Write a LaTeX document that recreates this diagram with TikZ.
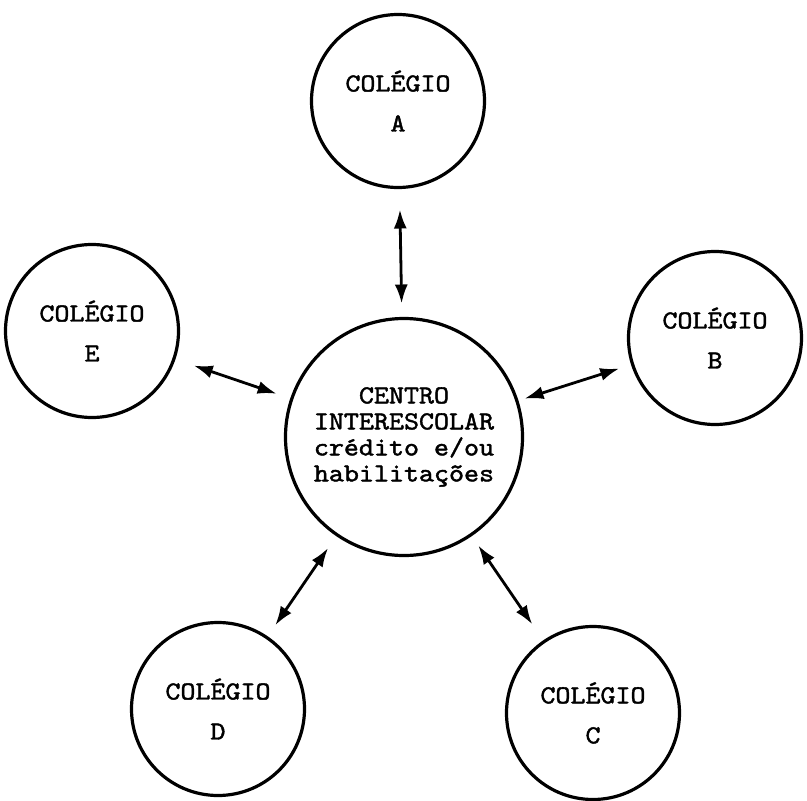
\documentclass[tikz,border=0pt]{standalone}
\usepackage{fontspec}
\newfontfamily\typer{lmmono10-regular}[Extension=.otf,FakeStretch=1.1,FakeBold=1.6]
\usetikzlibrary{arrows.meta}
\begin{document}
\begin{tikzpicture}[x=1pt,y=-1pt,
  school/.style={circle,draw,line width=3.2pt,inner sep=0pt,outer sep=0pt,
    minimum size=173pt,align=center,
    font=\typer\fontsize{26}{40}\selectfont},
  hub/.style={school,minimum size=237pt,
    font=\typer\fontsize{26}{26}\selectfont},
  link/.style={line width=2.8pt,
    {Latex[length=19pt,width=13pt]}-{Latex[length=19pt,width=13pt]}}]
\useasboundingbox (0,0) rectangle (807,801);

% central hub and the five schools around it
\node[hub] (O) at (404,437) {CENTRO\\INTERESCOLAR\\crédito e/ou\\habilitações};
\node[school] (A) at (398,101) {COLÉGIO\\A};
\node[school] (B) at (715,338) {COLÉGIO\\B};
\node[school] (C) at (593,713) {COLÉGIO\\C};
\node[school] (D) at (218,709) {COLÉGIO\\D};
\node[school] (E) at (92,331)  {COLÉGIO\\E};

% two-way links between each school and the hub
\draw[link, shorten <=22pt, shorten >=15pt] (A) -- (O);
\draw[link, shorten <=14pt, shorten >=8pt]  (B) -- (O);
\draw[link, shorten <=21pt, shorten >=13pt] (C) -- (O);
\draw[link, shorten <=15pt, shorten >=16pt] (D) -- (O);
\draw[link, shorten <=21pt, shorten >=16pt] (E) -- (O);
\end{tikzpicture}
\end{document}
